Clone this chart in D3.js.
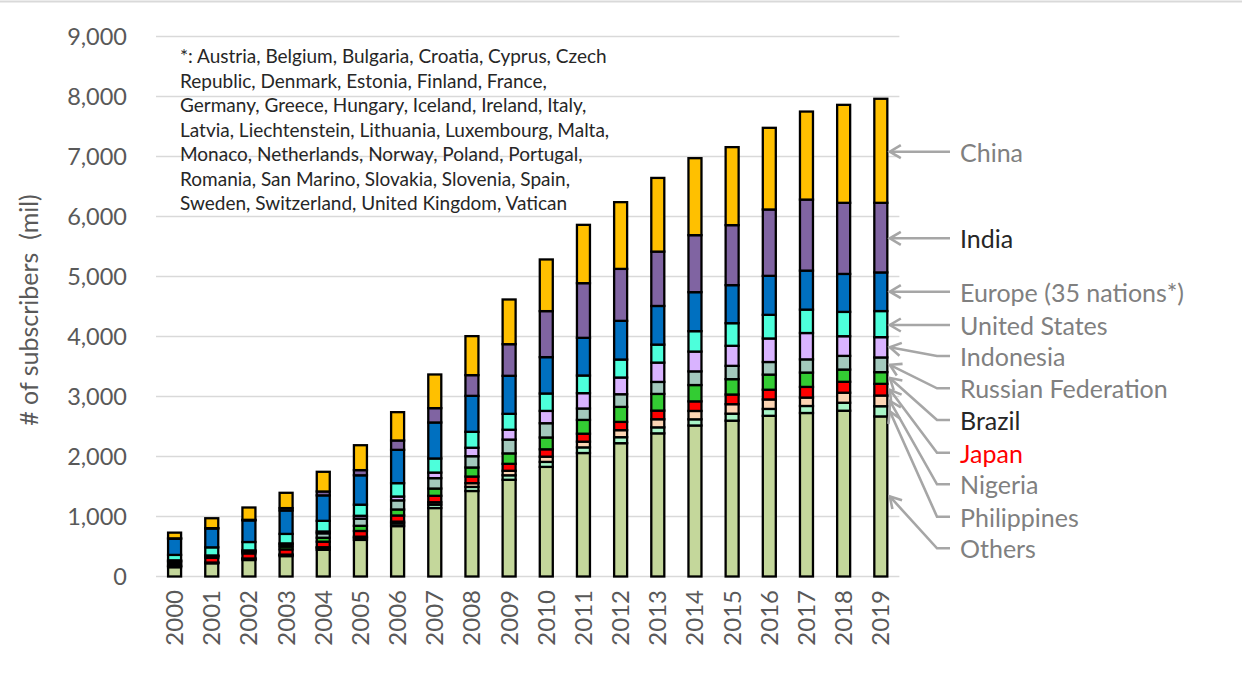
<!DOCTYPE html>
<html>
<head>
<meta charset="utf-8">
<script src="https://cdn.jsdelivr.net/npm/d3@7"></script>
<style>
  html, body { margin: 0; padding: 0; background: #ffffff; }
  svg { display: block; font-family: Lato, "Open Sans", sans-serif; }
</style>
</head>
<body>
<svg id="chart" width="1242" height="694"></svg>
<script>
// Mobile-cellular subscriptions by country/region, millions
const years = [2000, 2001, 2002, 2003, 2004, 2005, 2006, 2007, 2008, 2009,
               2010, 2011, 2012, 2013, 2014, 2015, 2016, 2017, 2018, 2019];

const others      = [155, 220, 275, 340, 446, 610, 840, 1141, 1425, 1612, 1827, 2058, 2222, 2386, 2517, 2597, 2678, 2725, 2763, 2668];
const philippines = [20, 12, 22, 22, 33, 35, 43, 57, 68, 75, 83, 94, 100, 100, 103, 117, 115, 117, 133, 170];
const nigeria     = [5, 1, 3, 3, 9, 19, 32, 40, 63, 75, 87, 95, 117, 135, 139, 158, 158, 140, 167, 178];
const japan       = [35, 80, 85, 87, 92, 95, 102, 107, 110, 116, 123, 133, 138, 144, 160, 161, 162, 178, 182, 195];
const brazil      = [30, 24, 25, 46, 66, 86, 100, 121, 151, 174, 197, 230, 250, 278, 272, 256, 252, 239, 204, 195];
const russia      = [15, 8, 15, 36, 74, 120, 152, 173, 188, 230, 238, 190, 211, 200, 228, 222, 210, 220, 228, 245];
const indonesia   = [10, 6, 10, 18, 30, 47, 64, 93, 141, 164, 205, 256, 278, 322, 330, 334, 392, 439, 328, 338];
const unitedStates= [90, 135, 140, 158, 178, 185, 223, 235, 265, 265, 290, 294, 300, 300, 340, 377, 394, 390, 405, 435];
const europe      = [270, 315, 360, 390, 424, 490, 555, 600, 600, 634, 606, 628, 645, 644, 650, 634, 650, 650, 633, 644];
const india       = [6, 5, 10, 40, 65, 86, 156, 239, 345, 527, 767, 911, 866, 906, 950, 1000, 1106, 1184, 1185, 1160];
const china       = [95, 165, 205, 255, 328, 415, 472, 561, 650, 745, 861, 972, 1112, 1228, 1283, 1300, 1361, 1467, 1633, 1734];

const yTicks = [0, 1000, 2000, 3000, 4000, 5000, 6000, 7000, 8000, 9000];

// Stack order, bottom to top
const seriesNames  = ["Others", "Philippines", "Nigeria", "Japan", "Brazil", "Russian Federation",
                      "Indonesia", "United States", "Europe (35 nations*)", "India", "China"];
const seriesValues = [others, philippines, nigeria, japan, brazil, russia,
                      indonesia, unitedStates, europe, india, china];
const seriesColors = ["#c4d79b", "#a9f5c8", "#fcd5b4", "#ff0000", "#33cc33", "#a3c9bd",
                      "#d9b3ff", "#4dffdb", "#0070c0", "#8064a2", "#ffc000"];
const labelColors  = ["#808080", "#808080", "#808080", "#ff0000", "#262626", "#808080",
                      "#808080", "#808080", "#808080", "#262626", "#808080"];

const footnote = [
  "*: Austria, Belgium, Bulgaria, Croatia, Cyprus, Czech",
  "Republic, Denmark, Estonia, Finland, France,",
  "Germany, Greece, Hungary, Iceland, Ireland, Italy,",
  "Latvia, Liechtenstein, Lithuania, Luxembourg, Malta,",
  "Monaco, Netherlands, Norway, Poland, Portugal,",
  "Romania, San Marino, Slovakia, Slovenia, Spain,",
  "Sweden, Switzerland, United Kingdom, Vatican"
];

const table = years.map((yr, i) => {
  const row = { year: yr };
  seriesNames.forEach((n, k) => { row[n] = seriesValues[k][i]; });
  return row;
});

const svg = d3.select("#chart");
const W = 1242, H = 694;

// outer frame line along the top
svg.append("line")
  .attr("x1", 0).attr("x2", W).attr("y1", 1.5).attr("y2", 1.5)
  .attr("stroke", "#d9d9d9").attr("stroke-width", 2);

const x = d3.scaleBand()
  .domain(years)
  .range([156, 899.4])
  .paddingInner(0.65)
  .paddingOuter(0.325);

const y = d3.scaleLinear().domain([0, 9000]).range([576.5, 36.5]);

// gridlines
svg.append("g")
  .selectAll("line")
  .data(yTicks)
  .join("line")
  .attr("x1", 156).attr("x2", 899.4)
  .attr("y1", d => y(d)).attr("y2", d => y(d))
  .attr("stroke", "#d9d9d9").attr("stroke-width", 1.6);

// y axis tick labels
const yAxis = d3.axisLeft(y).tickValues(yTicks).tickFormat(d3.format(",")).tickSize(0).tickPadding(0);
const gy = svg.append("g").attr("transform", "translate(127,0)").call(yAxis);
gy.select(".domain").remove();
gy.selectAll("text")
  .attr("fill", "#595959")
  .style("font-family", "Lato, 'Open Sans', sans-serif")
  .style("font-size", "23.5px");

// x axis year labels, rotated
const xAxis = d3.axisBottom(x).tickSize(0).tickPadding(0);
const gx = svg.append("g").attr("transform", "translate(0,590)").call(xAxis);
gx.select(".domain").remove();
gx.selectAll("text")
  .attr("fill", "#595959")
  .style("font-family", "Lato, 'Open Sans', sans-serif")
  .style("font-size", "24px")
  .attr("text-anchor", "end")
  .attr("dy", "0.35em")
  .attr("transform", "rotate(-90)")
  .attr("x", 0).attr("y", 0);

// y axis title
svg.append("text")
  .attr("transform", "translate(28,310) rotate(-90)")
  .attr("text-anchor", "middle")
  .attr("dominant-baseline", "central")
  .attr("fill", "#595959")
  .style("font-size", "25px")
  .attr("xml:space", "preserve")
  .text("# of subscribers  (mil)");

// footnote listing the European nations
svg.append("g")
  .selectAll("text")
  .data(footnote)
  .join("text")
  .attr("x", 180)
  .attr("y", (d, i) => 63 + i * 24.5)
  .attr("fill", "#262626")
  .style("font-size", "19px")
  .text(d => d);

// stacked bars
const stacked = d3.stack().keys(seriesNames)(table);
svg.append("g")
  .selectAll("g")
  .data(stacked)
  .join("g")
  .attr("fill", (d, i) => seriesColors[i])
  .selectAll("rect")
  .data(d => d)
  .join("rect")
  .attr("x", d => x(d.data.year))
  .attr("width", x.bandwidth())
  .attr("y", d => y(d[1]))
  .attr("height", d => y(d[0]) - y(d[1]))
  .attr("stroke", "#000")
  .attr("stroke-width", 2.3);

// series labels with pointers to the last bar
const lastYear = years[years.length - 1];
const tipX = x(lastYear) + x.bandwidth() + 2.5;
const labelYs = [548.3, 516.7, 484.3, 452.7, 420, 388.3, 356, 325, 291.7, 238.3, 151.7];
const labelX = 960;
const lineStart = 950;
const bendX = 937;

const pointers = stacked.map((layer, k) => {
  const d = layer[layer.length - 1];
  return { k, ty: y((d[0] + d[1]) / 2), ly: labelYs[k] };
});

const gp = svg.append("g")
  .attr("stroke", "#a6a6a6").attr("stroke-width", 2.6).attr("fill", "none");

pointers.forEach(p => {
  const straight = Math.abs(p.ty - p.ly) < 3;
  const ty = straight ? p.ly : p.ty;
  const pts = straight
    ? [[lineStart, p.ly], [tipX, ty]]
    : [[lineStart, p.ly], [bendX, p.ly], [tipX, ty]];
  gp.append("path").attr("d", d3.line()(pts));
  // arrow head
  const [ax, ay] = pts[pts.length - 2];
  const dx = tipX - ax, dy = ty - ay;
  const len = Math.hypot(dx, dy);
  const ux = dx / len, uy = dy / len;
  const L = 11, Wd = 6.5;
  const bx = tipX - ux * L, by = ty - uy * L;
  gp.append("path")
    .attr("stroke-linejoin", "miter")
    .attr("d", d3.line()([[bx - uy * Wd, by + ux * Wd], [tipX, ty], [bx + uy * Wd, by - ux * Wd]]));
});

svg.append("g")
  .selectAll("text")
  .data(pointers)
  .join("text")
  .attr("x", labelX)
  .attr("y", d => d.ly)
  .attr("dominant-baseline", "central")
  .attr("fill", d => labelColors[d.k])
  .style("font-size", "25px")
  .text(d => seriesNames[d.k]);
</script>
</body>
</html>
